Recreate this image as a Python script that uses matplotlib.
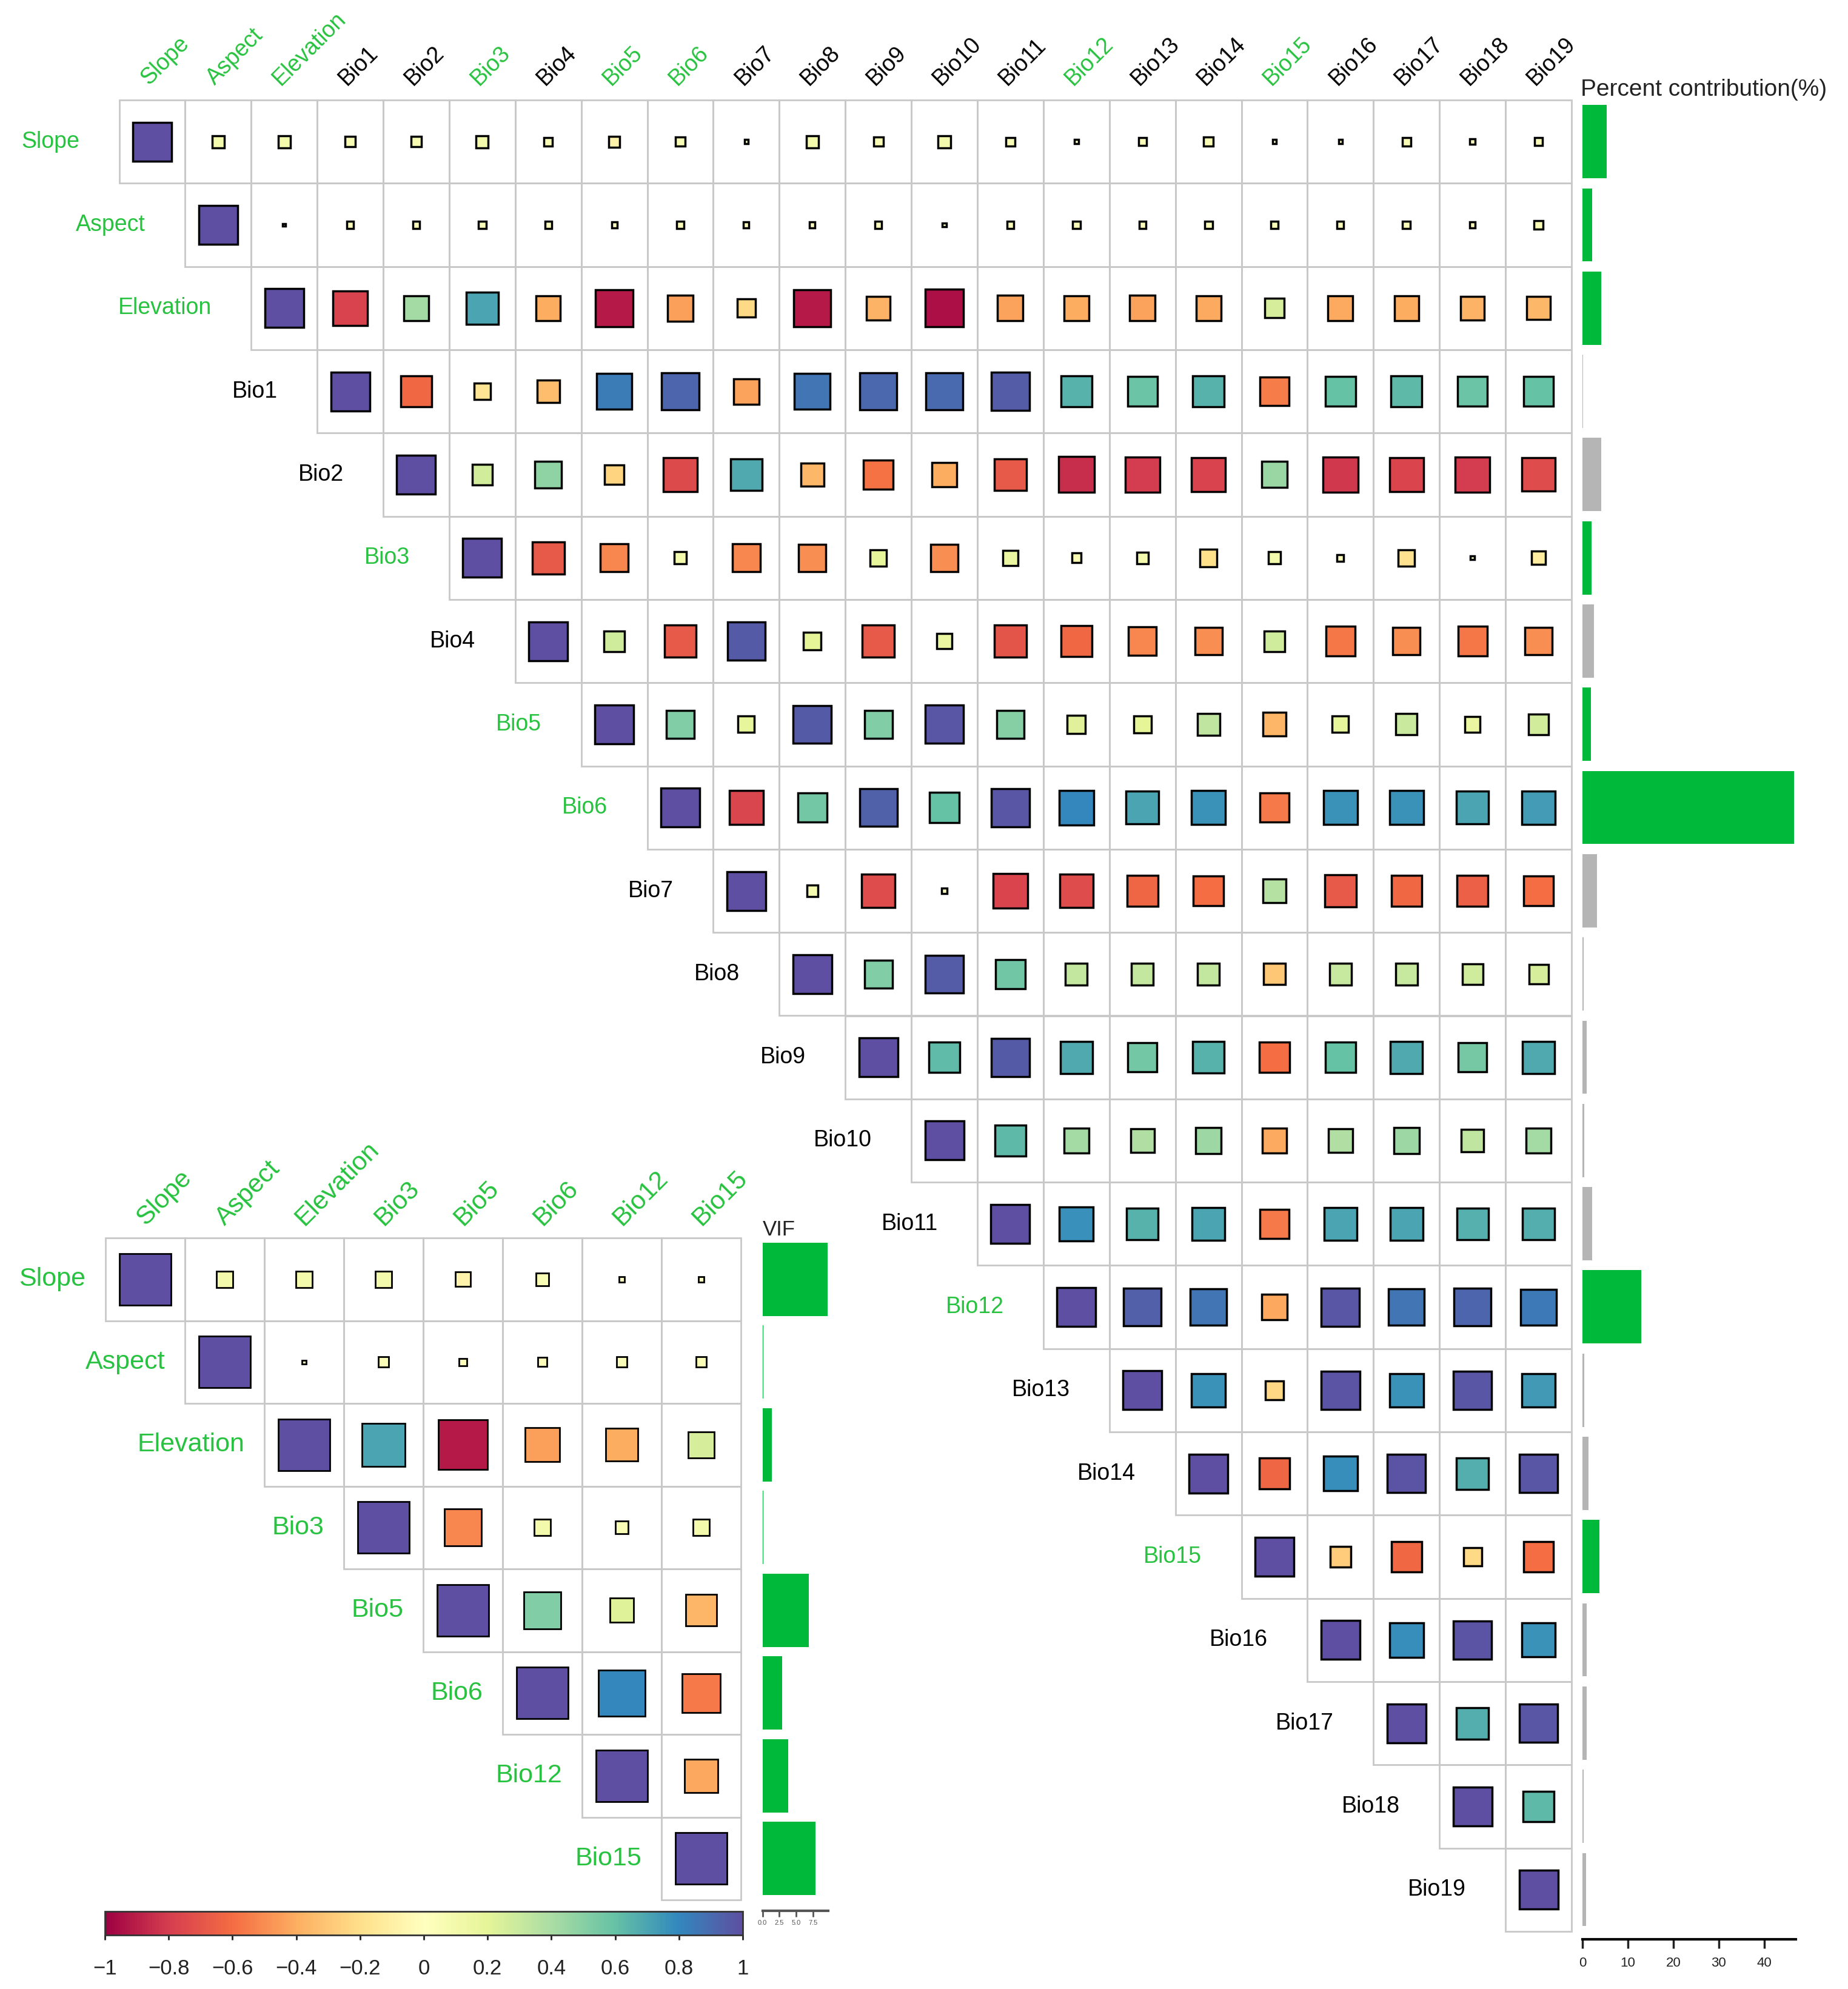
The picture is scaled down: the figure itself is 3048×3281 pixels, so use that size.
import numpy as np
import matplotlib.pyplot as plt
import matplotlib.cm as cm
from matplotlib.patches import Rectangle
from matplotlib.colors import Normalize

plt.rcParams['font.family'] = ['Liberation Sans', 'DejaVu Sans']

# variable names, the ones kept after the VIF screening are drawn in green
var_names = ['Slope', 'Aspect', 'Elevation'] + ['Bio%d' % k for k in range(1, 20)]
selected = ['Slope', 'Aspect', 'Elevation', 'Bio3', 'Bio5', 'Bio6', 'Bio12', 'Bio15']

# upper triangle of the correlation matrix, each row starts at the diagonal
r_slope = [1, 0.10, 0.10, 0.07, 0.07, 0.10, 0.05, -0.08, 0.06, 0.01, 0.10, 0.06, 0.10, 0.05, 0.01, 0.04, 0.06, 0.01, 0.01, 0.05, 0.02, 0.04]
r_aspect = [1, 0.005, 0.03, 0.03, 0.04, 0.03, 0.02, 0.03, 0.02, 0.02, 0.03, 0.01, 0.03, 0.04, 0.03, 0.04, 0.04, 0.03, 0.04, 0.02, 0.05]
r_elev = [1, -0.78, 0.42, 0.70, -0.40, -0.92, -0.44, -0.22, -0.92, -0.38, -0.95, -0.43, -0.40, -0.43, -0.41, 0.25, -0.41, -0.40, -0.38, -0.36]
r_bio1 = [1, -0.62, -0.17, -0.34, 0.84, 0.92, -0.43, 0.86, 0.91, 0.90, 0.95, 0.65, 0.58, 0.65, -0.55, 0.60, 0.63, 0.58, 0.60]
r_bio2 = [1, 0.27, 0.48, -0.25, -0.75, 0.68, -0.36, -0.58, -0.40, -0.68, -0.85, -0.80, -0.78, 0.45, -0.82, -0.77, -0.80, -0.74]
r_bio3 = [1, -0.68, -0.52, 0.10, -0.52, -0.50, 0.18, -0.50, 0.15, 0.06, 0.09, -0.20, 0.10, 0.03, -0.18, 0.01, -0.12]
r_bio4 = [1, 0.28, -0.68, 0.96, 0.20, -0.68, 0.15, -0.70, -0.62, -0.52, -0.50, 0.28, -0.57, -0.50, -0.57, -0.50]
r_bio5 = [1, 0.52, 0.18, 0.96, 0.52, 0.97, 0.50, 0.22, 0.20, 0.33, -0.37, 0.18, 0.30, 0.16, 0.27]
r_bio6 = [1, -0.76, 0.56, 0.93, 0.60, 0.97, 0.80, 0.70, 0.76, -0.56, 0.76, 0.76, 0.70, 0.73]
r_bio7 = [1, 0.08, -0.74, 0.02, -0.77, -0.74, -0.63, -0.60, 0.36, -0.68, -0.62, -0.65, -0.60]
r_bio8 = [1, 0.52, 0.95, 0.57, 0.32, 0.32, 0.32, -0.30, 0.31, 0.31, 0.28, 0.25]
r_bio9 = [1, 0.62, 0.96, 0.68, 0.56, 0.65, -0.60, 0.60, 0.68, 0.55, 0.68]
r_bio10 = [1, 0.63, 0.42, 0.38, 0.44, -0.41, 0.38, 0.44, 0.33, 0.42]
r_bio11 = [1, 0.77, 0.65, 0.70, -0.56, 0.70, 0.70, 0.66, 0.67]
r_bio12 = [1, 0.94, 0.86, -0.42, 0.97, 0.86, 0.92, 0.85]
r_bio13 = [1, 0.76, -0.23, 0.98, 0.76, 0.97, 0.74]
r_bio14 = [1, -0.63, 0.78, 0.98, 0.67, 0.97]
r_bio15 = [1, -0.28, -0.62, -0.22, -0.60]
r_bio16 = [1, 0.78, 0.98, 0.76]
r_bio17 = [1, 0.67, 0.97]
r_bio18 = [1, 0.63]
r_bio19 = [1]

corr_rows = [r_slope, r_aspect, r_elev, r_bio1, r_bio2, r_bio3, r_bio4, r_bio5, r_bio6, r_bio7,
             r_bio8, r_bio9, r_bio10, r_bio11, r_bio12, r_bio13, r_bio14, r_bio15, r_bio16,
             r_bio17, r_bio18, r_bio19]

# percent contribution of every variable (%), and VIF of the kept ones
pct_contribution = [5.4, 2.2, 4.2, 0.2, 4.1, 2.0, 2.6, 1.9, 46.5, 3.2, 0.3, 1.0, 0.4, 2.2,
                    12.9, 0.4, 1.4, 3.7, 1.0, 0.9, 0.3, 0.8]
vif = [9.6, 0.1, 1.4, 0.15, 6.8, 2.9, 3.8, 7.8]

pc_ticks = [0, 10, 20, 30, 40]
vif_ticks = [0, 2.5, 5.0, 7.5]
vif_ticklabels = ['0.0', '2.5', '5.0', '7.5']
cbar_ticks = [-1, -0.8, -0.6, -0.4, -0.2, 0, 0.2, 0.4, 0.6, 0.8, 1]
cbar_ticklabels = ['\u22121', '\u22120.8', '\u22120.6', '\u22120.4', '\u22120.2', '0',
                   '0.2', '0.4', '0.6', '0.8', '1']

GREEN_TXT = '#27C23F'
GREEN_BAR = '#00B83A'
GREY_BAR = '#B5B5B5'
GRID = '#C8C8C8'

n = len(var_names)
corr = np.full((n, n), np.nan)
for i, row in enumerate(corr_rows):
    corr[i, i:] = row
corr_full = np.where(np.isnan(corr), corr.T, corr)

sel_idx = [var_names.index(v) for v in selected]
corr_small = corr_full[np.ix_(sel_idx, sel_idx)]

W, H = 3048, 3281
fig = plt.figure(figsize=(W / 100, H / 100), dpi=100)


def px_axes(x0, y0, x1, y1):
    return fig.add_axes([x0 / W, 1 - y1 / H, (x1 - x0) / W, (y1 - y0) / H])


cmap = plt.get_cmap('Spectral')
norm = Normalize(-1, 1)


def draw_corr(ax, mat, names, colw, rowh, side, fs, row_dx, col_dx, col_dy, sq_lw):
    m = len(names)
    ax.set_xlim(0, m)
    ax.set_ylim(m, 0)
    ax.axis('off')
    for i in range(m):
        for j in range(i, m):
            ax.add_patch(Rectangle((j, i), 1, 1, fill=False, ec=GRID, lw=2, zorder=1, clip_on=False))
            r = mat[i, j]
            s = side * np.sqrt(abs(r))
            w, h = s / colw, s / rowh
            ax.add_patch(Rectangle((j + 0.5 - w / 2, i + 0.5 - h / 2), w, h, fc=cmap(norm(r)),
                                   ec='black', lw=sq_lw, zorder=2, clip_on=False))
    for k, name in enumerate(names):
        c = GREEN_TXT if name in selected else 'black'
        ax.text(k + col_dx, col_dy, name, rotation=45, rotation_mode='anchor', ha='left',
                va='baseline', fontsize=fs, color=c, clip_on=False)
        ax.text(k - row_dx, k + 0.5, name, ha='right', va='center', fontsize=fs, color=c,
                clip_on=False)


# big matrix
ax_big = px_axes(196.5, 165, 2592, 3186)
draw_corr(ax_big, corr_full, var_names, 108.9, 137.3, 64, 27, 0.6, 0.45, -0.17, 2.5)

# percent contribution bars
ax_pc = px_axes(2610, 165, 2961.5, 3199)
bar_cols = [GREEN_BAR if v in selected else GREY_BAR for v in var_names]
ax_pc.barh(np.arange(n) + 0.5, pct_contribution, height=0.88, color=bar_cols)
ax_pc.set_xlim(0, 46.9)
ax_pc.set_ylim((3199 - 165) / 137.3, 0)
for sp in ['left', 'top', 'right']:
    ax_pc.spines[sp].set_visible(False)
ax_pc.spines['bottom'].set_linewidth(3)
ax_pc.set_yticks([])
ax_pc.set_xticks(pc_ticks)
ax_pc.tick_params(axis='x', length=11, width=2.5, labelsize=16, pad=10, colors='#222222')
ax_pc.text(-0.4, -0.05, 'Percent contribution(%)', ha='left', va='baseline', fontsize=28,
           color='#222222')

# small matrix of the kept variables
ax_small = px_axes(174, 2042, 1222, 3134)
draw_corr(ax_small, corr_small, selected, 131, 136.5, 85, 31, 0.25, 0.5, -0.14, 2)

# VIF bars
ax_vif = px_axes(1257.5, 2042, 1366, 3152)
ax_vif.barh(np.arange(len(selected)) + 0.5, vif, height=0.89, color=GREEN_BAR)
ax_vif.set_xlim(0, 9.7)
ax_vif.set_ylim((3152 - 2042) / 136.5, 0)
for sp in ['left', 'top', 'right']:
    ax_vif.spines[sp].set_visible(False)
ax_vif.spines['bottom'].set_linewidth(3)
ax_vif.spines['bottom'].set_color('#555555')
ax_vif.set_yticks([])
ax_vif.set_xticks(vif_ticks)
ax_vif.set_xticklabels(vif_ticklabels)
ax_vif.tick_params(axis='x', length=7, width=2, labelsize=8, pad=4, colors='#555555')
ax_vif.text(0, -0.03, 'VIF', ha='left', va='baseline', fontsize=25, color='#222222')

# colour bar
cax = px_axes(173, 3153, 1225, 3192)
cb = fig.colorbar(cm.ScalarMappable(norm=norm, cmap=cmap), cax=cax, orientation='horizontal')
cb.set_ticks(cbar_ticks)
cb.set_ticklabels(cbar_ticklabels)
cb.outline.set_linewidth(2)
cb.outline.set_edgecolor('#333333')
cax.tick_params(length=6, width=2, labelsize=25, pad=22, colors='#222222')

fig.savefig('out.png', dpi=100)
